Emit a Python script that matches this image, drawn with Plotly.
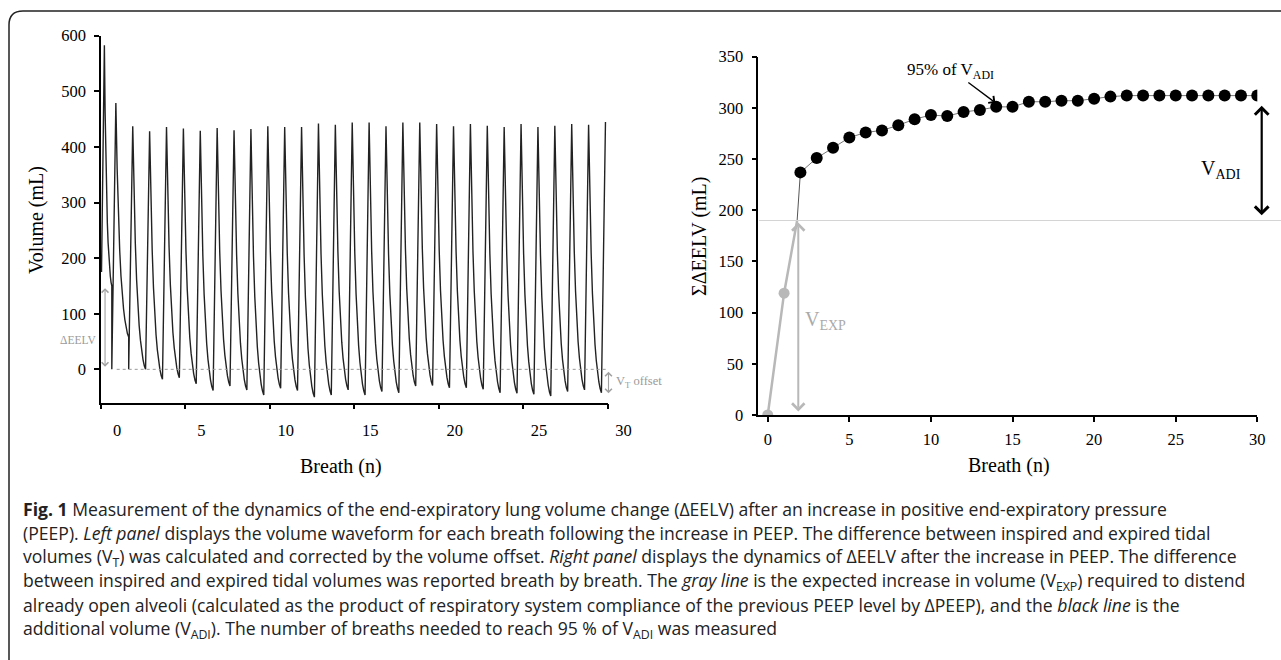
import plotly.graph_objects as go

W, H = 1281, 660

# ---------------- Left panel: per-breath values ----------------
# peak volume of each inspiration (mL); first spike is the breath right after the PEEP step
peak_vol = [583, 479, 437, 428, 436, 433, 429, 434, 430, 432, 437, 436, 436, 442, 440,
            444, 444, 437, 444, 444, 441, 437, 441, 438, 436, 441, 436, 438, 441, 440, 445]
# breath position (n) of each peak
peak_x = [0.2, 0.88, 1.88, 2.88, 3.88, 4.88, 5.88, 6.88, 7.88, 8.88, 9.88, 10.88, 11.88,
          12.88, 13.88, 14.88, 15.88, 16.88, 17.88, 18.88, 19.88, 20.88, 21.88, 22.88,
          23.88, 24.88, 25.88, 26.88, 27.88, 28.88, 29.88]
# end-expiratory volume reached by each breath (mL)
end_vol = [150, 58, 0, -18, -15, -26, -38, -30, -37, -46, -34, -38, -50, -46, -37,
           -46, -40, -42, -30, -29, -33, -33, -36, -42, -43, -45, -48, -40, -37, -42]
# volume at which the first breaths start (offset reset after the first two breaths)
first_start_vol = [175, 0, 0]
first_start_x = 0.03
insp_time = 0.24
# normalised shape of the expiration curve
decay_phase = [0, 0.1, 0.2, 0.3, 0.4, 0.5, 0.6, 0.7, 0.8, 0.9, 1.0]
decay_frac = [1, 0.72, 0.52, 0.37, 0.26, 0.18, 0.12, 0.075, 0.04, 0.015, 0]

# ---------------- Right panel ----------------
exp_breath = [0, 1]
exp_vol = [0, 119]
vexp_level = 190
vexp_x = 1.8
adi_breath = list(range(2, 31))
adi_vol = [237, 251, 261, 271, 276, 278, 283, 289, 293, 292, 296, 298, 301, 301, 306,
           306, 307, 307, 309, 311, 312, 312, 312, 312, 312, 312, 312, 312, 312]

left_x_ticks = [0, 5, 10, 15, 20, 25, 30]
left_y_ticks = [0, 100, 200, 300, 400, 500, 600]
right_x_ticks = [0, 5, 10, 15, 20, 25, 30]
right_y_ticks = [0, 50, 100, 150, 200, 250, 300, 350]

caption_lines = [
    "<b>Fig. 1</b> Measurement of the dynamics of the end-expiratory lung volume change (ΔEELV) after an increase in positive end-expiratory pressure",
    "(PEEP). <i>Left panel</i> displays the volume waveform for each breath following the increase in PEEP. The difference between inspired and expired tidal",
    "volumes (V<sub>T</sub>) was calculated and corrected by the volume offset. <i>Right panel</i> displays the dynamics of ΔEELV after the increase in PEEP. The difference",
    "between inspired and expired tidal volumes was reported breath by breath. The <i>gray line</i> is the expected increase in volume (V<sub>EXP</sub>) required to distend",
    "already open alveoli (calculated as the product of respiratory system compliance of the previous PEEP level by ΔPEEP), and the <i>black line</i> is the",
    "additional volume (V<sub>ADI</sub>). The number of breaths needed to reach 95 % of V<sub>ADI</sub> was measured",
]

# ---------------- build waveform from per-breath values ----------------
n_b = len(peak_vol)
start_x = [first_start_x] + [p - insp_time for p in peak_x[1:]]
start_vol = first_start_vol + end_vol[2:n_b - 1]
wx, wy = [], []
for i in range(n_b):
    wx += [start_x[i], peak_x[i]]
    wy += [start_vol[i], peak_vol[i]]
    if i < n_b - 1:
        ex = start_x[i + 1]
        for ph, fr in zip(decay_phase[1:], decay_frac[1:]):
            wx.append(peak_x[i] + ph * (ex - peak_x[i]))
            wy.append(end_vol[i] + (peak_vol[i] - end_vol[i]) * fr)

SERIF = "Liberation Serif"
SANS = "Open Sans"
GRAY = "#b8b8b8"

fig = go.Figure()
fig.add_trace(go.Scatter(x=wx, y=wy, mode="lines", line=dict(color="#222", width=1.4),
                         xaxis="x", yaxis="y", showlegend=False, hoverinfo="skip"))

# right panel traces
fig.add_trace(go.Scatter(x=[vexp_x, adi_breath[0]], y=[vexp_level, adi_vol[0]], mode="lines",
                         line=dict(color="#555", width=1), xaxis="x2", yaxis="y2", showlegend=False))
fig.add_trace(go.Scatter(x=exp_breath + [vexp_x], y=exp_vol + [vexp_level], mode="lines",
                         line=dict(color=GRAY, width=2.5), xaxis="x2", yaxis="y2", showlegend=False))
fig.add_trace(go.Scatter(x=exp_breath, y=exp_vol, mode="markers",
                         marker=dict(color=GRAY, size=11), xaxis="x2", yaxis="y2", showlegend=False))
fig.add_trace(go.Scatter(x=adi_breath, y=adi_vol, mode="lines+markers",
                         line=dict(color="#777", width=1), marker=dict(color="black", size=12),
                         xaxis="x2", yaxis="y2", showlegend=False))


def px_x(p):
    return p / W


def px_y(p):
    return 1 - p / H


axis_common = dict(showgrid=False, zeroline=False, showline=True, linecolor="black", linewidth=1.5,
                   ticks="outside", ticklen=5, tickwidth=1.5, tickcolor="black",
                   tickfont=dict(family=SERIF, size=16.5, color="black"))

fig.update_layout(
    width=W, height=H, margin=dict(l=0, r=0, t=0, b=0, autoexpand=False),
    paper_bgcolor="white", plot_bgcolor="rgba(0,0,0,0)",
    xaxis=dict(domain=[px_x(101), px_x(607.5)], range=[0, 30], tickvals=left_x_ticks,
               ticklabelshift=16, ticklabelstandoff=7, anchor="y", **axis_common),
    yaxis=dict(domain=[px_y(402.7), px_y(35.7)], range=[-60, 600], tickvals=left_y_ticks,
               ticklabelstandoff=5, anchor="x", **axis_common),
    xaxis2=dict(domain=[px_x(758.3), px_x(1257.3)], range=[-0.58, 30], tickvals=right_x_ticks,
                ticklabelstandoff=3, anchor="y2", **axis_common),
    yaxis2=dict(domain=[px_y(415), px_y(56.7)], range=[0, 350], tickvals=right_y_ticks,
                ticklabelstandoff=5, anchor="x2", **axis_common),
)

shapes = []
# outer rounded frame
rx, ry = 14 / W, 14 / H
x0, yt = 9 / W, 1 - 11 / H
shapes.append(dict(type="path", xref="paper", yref="paper",
                   path=f"M {x0},-0.05 L {x0},{yt - ry} Q {x0},{yt} {x0 + rx},{yt} L 1.05,{yt}",
                   line=dict(color="#222", width=1.5)))
# dotted zero line, left panel
shapes.append(dict(type="line", xref="x", yref="y", x0=0.93, x1=30, y0=0, y1=0,
                   line=dict(color="#999", width=1, dash="dot")))
# V_EXP level line, right panel
shapes.append(dict(type="line", xref="paper", yref="y2", x0=px_x(759), x1=1.0, y0=vexp_level,
                   y1=vexp_level, line=dict(color="#d4d4d4", width=1)))
fig.update_layout(shapes=shapes)

ann = []


def arrow(xref, yref, x, y0, y1, color, width, size):
    return dict(xref=xref, yref=yref, axref=xref, ayref=yref, x=x, y=y1, ax=x, ay=y0,
                text="", showarrow=True, arrowhead=4, startarrowhead=4, arrowside="end+start",
                arrowcolor=color, arrowwidth=width, arrowsize=size, startarrowsize=size)


ann.append(arrow("x", "y", 0.24, 2, 146, "#a0a0a0", 1.1, 1.2))
ann.append(arrow("x2", "y2", 1.87, 2, 188, GRAY, 2, 1.2))
# arrows that sit just right of the axis ranges: placed in paper x, pixel tails
ann.append(dict(xref="paper", yref="y", x=px_x(608.5), y=-43, ax=0, ay=-23, text="", showarrow=True,
                arrowhead=4, startarrowhead=4, arrowside="end+start", arrowcolor="#a0a0a0",
                arrowwidth=1.1, arrowsize=1.2, startarrowsize=1.2))
ann.append(dict(xref="paper", yref="y2", x=px_x(1261.7), y=302, ax=0, ay=111, text="", showarrow=True,
                arrowhead=4, startarrowhead=4, arrowside="end+start", arrowcolor="black",
                arrowwidth=2.2, arrowsize=1.2, startarrowsize=1.2))
# 95% pointer
ann.append(dict(xref="x2", yref="y2", axref="x2", ayref="y2", x=13.95, y=305, ax=12.2, ay=326,
                text="", showarrow=True, arrowhead=4, arrowsize=1.3, arrowwidth=1.3, arrowcolor="black"))


def label(xref, yref, x, y, text, size, color, xanchor="center", angle=0):
    return dict(xref=xref, yref=yref, x=x, y=y, text=text, showarrow=False, xanchor=xanchor,
                yanchor="middle", textangle=angle, font=dict(family=SERIF, size=size, color=color))


ann.append(label("paper", "y", px_x(78), 52, "ΔEELV", 11.5, "#9a9a9a"))
ann.append(label("paper", "y", px_x(614), -22, "V<sub>T</sub> offset", 12.5, "#9a9a9a", xanchor="left"))
ann.append(label("x2", "y2", 2.15, 92, "V<sub>EXP</sub>", 20, "#aaaaaa", xanchor="left"))
ann.append(label("x2", "y2", 27.8, 240, "V<sub>ADI</sub>", 20, "black"))
ann.append(label("x2", "y2", 11.2, 336, "95% of V<sub>ADI</sub>", 17, "black"))

# axis titles
ann.append(label("paper", "paper", px_x(37), px_y(220), "Volume (mL)", 20, "black", angle=-90))
ann.append(label("paper", "paper", px_x(341), px_y(467), "Breath (n)", 20, "black"))
ann.append(label("paper", "paper", px_x(699), px_y(236), "ΣΔEELV (mL)", 20, "black", angle=-90))
ann.append(label("paper", "paper", px_x(1009), px_y(465), "Breath (n)", 20, "black"))

# caption
for k, line in enumerate(caption_lines):
    ann.append(dict(xref="paper", yref="paper", x=px_x(21), y=px_y(509 + 24 * k), xanchor="left",
                    yanchor="middle", text=line, showarrow=False, align="left",
                    font=dict(family=SANS, size=17.6, color="#222")))

fig.update_layout(annotations=ann)
fig.write_html("out.html", config={"displayModeBar": False},
               post_script="document.body.style.margin='0px';document.body.style.padding='0px';"
                           "document.documentElement.style.overflow='hidden';")
